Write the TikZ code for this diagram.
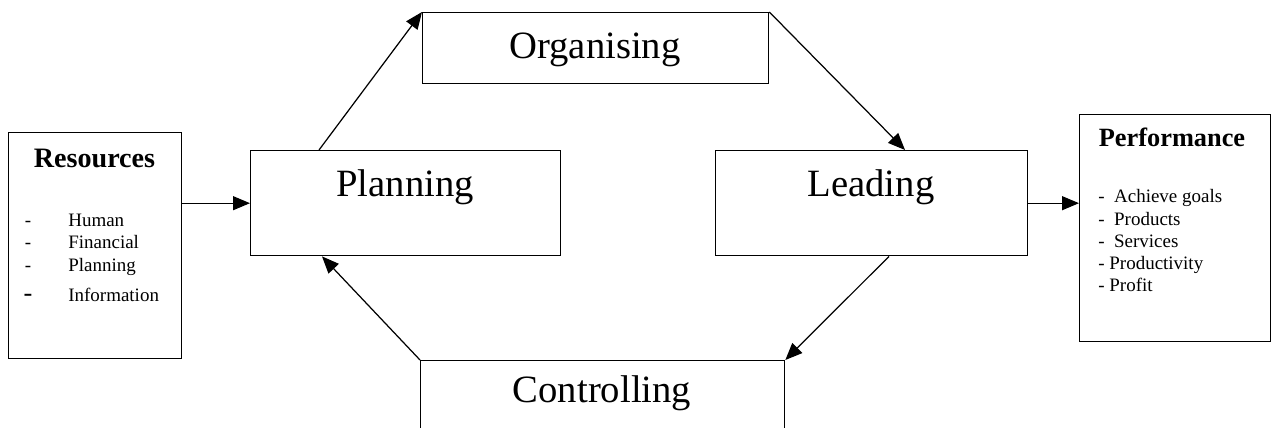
\documentclass[tikz,border=0pt]{standalone}
\usepackage{fontspec}
\setmainfont{Liberation Serif}
\usetikzlibrary{arrows.meta}
\usetikzlibrary{calc}
\usetikzlibrary{positioning}
\tikzset{basic box/.style={draw,rectangle,line width=0.8pt,inner sep=0pt}}
\tikzset{edge/.style={draw,
                      line width=0.7pt,
                      -{Triangle[length=0.34cm,width=0.28cm]}}}
\newcommand{\STAGEFONT}{\fontsize{22}{26}\selectfont}
\newcommand{\ITEMFONT}{\fontsize{10.8}{13}\selectfont}

\begin{document}
\begin{tikzpicture}
      [
      x=0.02cm,y=-0.02cm,
      stage/.style={basic box,anchor=north west},
      stage text/.style={anchor=base,inner sep=0pt,font=\STAGEFONT},
      title/.style={anchor=base,inner sep=0pt},
      item/.style={inner sep=0pt,font=\ITEMFONT},
      ]
      \useasboundingbox (0,0) rectangle (1275,428);
      \clip (0,0) rectangle (1275,428);

      % boxes
      \foreach \n/\x/\y/\w/\h in
      {
      res/8/132/3.46/4.52,
      plan/250/150/6.2/2.1,
      org/422/12/6.92/1.42,
      lead/715/150/6.24/2.1,
      ctrl/420/360/7.28/1.8,
      perf/1079/114/3.82/4.54
      }
      {
      \node [stage,minimum width=\w cm,minimum height=\h cm] (\n) at (\x,\y) {};
      }

      % stage names
      \foreach \n/\x/\y/\t in
      {
      plan/405/197/Planning,
      org/595/59/Organising,
      lead/871/197/Leading,
      ctrl/602/403/Controlling
      }
      {
      \node [stage text] (\n-txt) at (\x,\y) {\t};
      }

      % titles
      \node [title,font=\fontsize{16}{19}\selectfont\bfseries] (res-title) at (94.5,168) {Resources};
      \node [title,font=\fontsize{15}{18}\selectfont\bfseries] (perf-title) at (1172,147) {Performance};

      % resource list
      \foreach \i/\y/\t/\s in
      {
      1/227/Human/10.8,
      2/249/Financial/10.8,
      3/272/Planning/10.8,
      4/302/Information/15
      }
      {
      \node [item,anchor=base,font=\fontsize{\s}{\s}\selectfont] (res-dash\i) at (28,\y) {-};
      \node [item,anchor=base west] (res-item\i) at (68,\y) {\t};
      }

      % performance list
      \foreach \i/\y/\t in
      {
      1/203/{-\ \ Achieve goals},
      2/226/{-\ \ Products},
      3/248/{-\ \ Services},
      4/270/{- Productivity},
      5/292/{- Profit}
      }
      {
      \node [item,anchor=base west] (perf-item\i) at (1098,\y) {\t};
      }

      % edges
      \draw [edge] (res.east |- plan.west) -- (plan.west);
      \draw [edge] ($(plan.north west)+(69,0)$) -- (org.north west);
      \draw [edge] (org.north east) -- ($(lead.north west)+(190,0)$);
      \draw [edge] (lead.east) -- (perf.west |- lead.east);
      \draw [edge] ($(lead.south west)+(174,0)$) -- (ctrl.north east);
      \draw [edge] (ctrl.north west) -- ($(plan.south west)+(72,0)$);

    \end{tikzpicture}
\end{document}
